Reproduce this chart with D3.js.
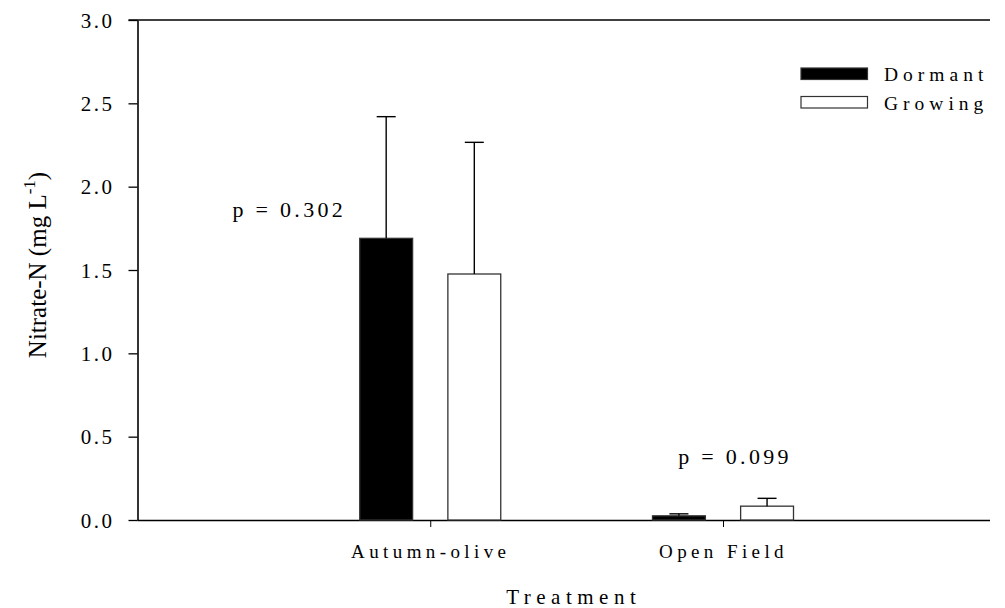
<!DOCTYPE html>
<html>
<head>
<meta charset="utf-8">
<script src="https://cdn.jsdelivr.net/npm/d3@7"></script>
<style>
  body { margin: 0; background: #fff; }
</style>
</head>
<body>
<svg></svg>
<script>
var width = 1005;
var height = 608;
var serif = "'Liberation Serif', 'Times New Roman', Times, serif";

// data
var categories = ["Autumn-olive", "Open Field"];
var seasons = ["Dormant", "Growing"];
var dormantMeans = [1.69, 0.025];
var dormantErr = [0.73, 0.012];
var growingMeans = [1.476, 0.083];
var growingErr = [0.79, 0.047];
var pLabels = ["p = 0.302", "p = 0.099"];
var yTicks = [0, 0.5, 1.0, 1.5, 2.0, 2.5, 3.0];

var rows = [];
categories.forEach((c, i) => {
  rows.push({ cat: c, season: "Dormant", mean: dormantMeans[i], err: dormantErr[i] });
  rows.push({ cat: c, season: "Growing", mean: growingMeans[i], err: growingErr[i] });
});

var margin = { left: 137.5, right: 15, top: 20, bottom: 88 };
var plotRight = width - margin.right;
var plotBottom = height - margin.bottom;

var svg = d3.select("svg")
    .attr("width", width)
    .attr("height", height)
    .style("font-family", serif);

var y = d3.scaleLinear()
    .domain([0, 3])
    .range([plotBottom, margin.top]);

var x = d3.scalePoint()
    .domain(categories)
    .range([margin.left, plotRight])
    .padding(0.956)
    .align(0.523);

var xSub = d3.scaleBand()
    .domain(seasons)
    .range([-70.5, 70.5])
    .paddingInner(0.4);

var fills = { Dormant: "#000", Growing: "#fff" };

// y axis
var yAxis = svg.append("g")
    .attr("transform", `translate(${margin.left}, 0)`)
    .call(d3.axisLeft(y).tickValues(yTicks).tickFormat(d3.format(".1f")).tickSizeInner(9).tickSizeOuter(0).tickPadding(14));
yAxis.attr("font-family", null);
yAxis.select(".domain").attr("stroke-width", 1.6);
yAxis.selectAll(".tick line").attr("stroke-width", 1.3);
yAxis.selectAll(".tick text")
    .style("font-family", serif)
    .style("font-size", "21px")
    .style("letter-spacing", "2.5px")
    .attr("dy", "0.34em");

// top frame line
svg.append("line")
    .attr("x1", margin.left - 9)
    .attr("x2", plotRight)
    .attr("y1", y(3))
    .attr("y2", y(3))
    .attr("stroke", "#000")
    .attr("stroke-width", 1.4);

// x axis
var xAxis = svg.append("g")
    .attr("transform", `translate(0, ${plotBottom})`)
    .call(d3.axisBottom(x).tickSizeInner(7).tickSizeOuter(0).tickPadding(18));
xAxis.attr("font-family", null);
xAxis.select(".domain")
    .attr("d", `M${margin.left},0.5H${plotRight}`)
    .attr("stroke-width", 1.6);
xAxis.selectAll(".tick text")
    .style("font-family", serif)
    .style("font-size", "19px")
    .style("letter-spacing", "4.4px");

// bars
svg.append("g")
  .selectAll("rect")
  .data(rows)
  .enter()
  .append("rect")
    .attr("x", d => x(d.cat) + xSub(d.season))
    .attr("y", d => y(d.mean))
    .attr("width", xSub.bandwidth())
    .attr("height", d => y(0) - y(d.mean))
    .attr("fill", d => fills[d.season])
    .attr("stroke", "#333")
    .attr("stroke-width", 1.3);

// error bars (upper only)
var errG = svg.append("g")
  .selectAll("g")
  .data(rows)
  .enter()
  .append("g")
    .attr("transform", d => `translate(${x(d.cat) + xSub(d.season) + xSub.bandwidth() / 2}, 0)`);

errG.append("line")
    .attr("y1", d => y(d.mean))
    .attr("y2", d => y(d.mean + d.err))
    .attr("stroke", "#000")
    .attr("stroke-width", 1.4);

errG.append("line")
    .attr("x1", -9.5)
    .attr("x2", 9.5)
    .attr("y1", d => y(d.mean + d.err))
    .attr("y2", d => y(d.mean + d.err))
    .attr("stroke", "#000")
    .attr("stroke-width", 1.4);

// p value labels
var pPos = [{ dx: -141, v: 1.82 }, { dx: 12, v: 0.335 }];
svg.selectAll(".pval")
  .data(pLabels)
  .enter()
  .append("text")
    .classed("pval", true)
    .attr("x", (d, i) => x(categories[i]) + pPos[i].dx)
    .attr("y", (d, i) => y(pPos[i].v))
    .attr("text-anchor", "middle")
    .style("font-size", "22px")
    .style("letter-spacing", "3.3px")
    .text(d => d);

// legend
var legend = svg.append("g")
    .attr("transform", "translate(801, 68)")
  .selectAll("g")
  .data(seasons)
  .enter()
  .append("g")
    .attr("transform", (d, i) => `translate(0, ${i * 28.5})`);

legend.append("rect")
    .attr("width", 66.5)
    .attr("height", 11.5)
    .attr("fill", d => fills[d])
    .attr("stroke", "#333")
    .attr("stroke-width", 1.2);

legend.append("text")
    .attr("x", 83)
    .attr("y", 13)
    .style("font-size", "19.5px")
    .style("letter-spacing", "5px")
    .text(d => d);

// axis titles
svg.append("text")
    .attr("x", (margin.left + plotRight) / 2 + 10)
    .attr("y", 604)
    .attr("text-anchor", "middle")
    .style("font-size", "21px")
    .style("letter-spacing", "5.5px")
    .text("Treatment");

var yTitle = svg.append("text")
    .attr("transform", `translate(46, ${(y(3) + y(0)) / 2 - 5}) rotate(-90)`)
    .attr("text-anchor", "middle")
    .style("font-size", "25px");
yTitle.append("tspan").text("Nitrate-N (mg L");
yTitle.append("tspan").attr("dy", -11).style("font-size", "17px").text("-1");
yTitle.append("tspan").attr("dy", 11).text(")");
</script>
</body>
</html>
